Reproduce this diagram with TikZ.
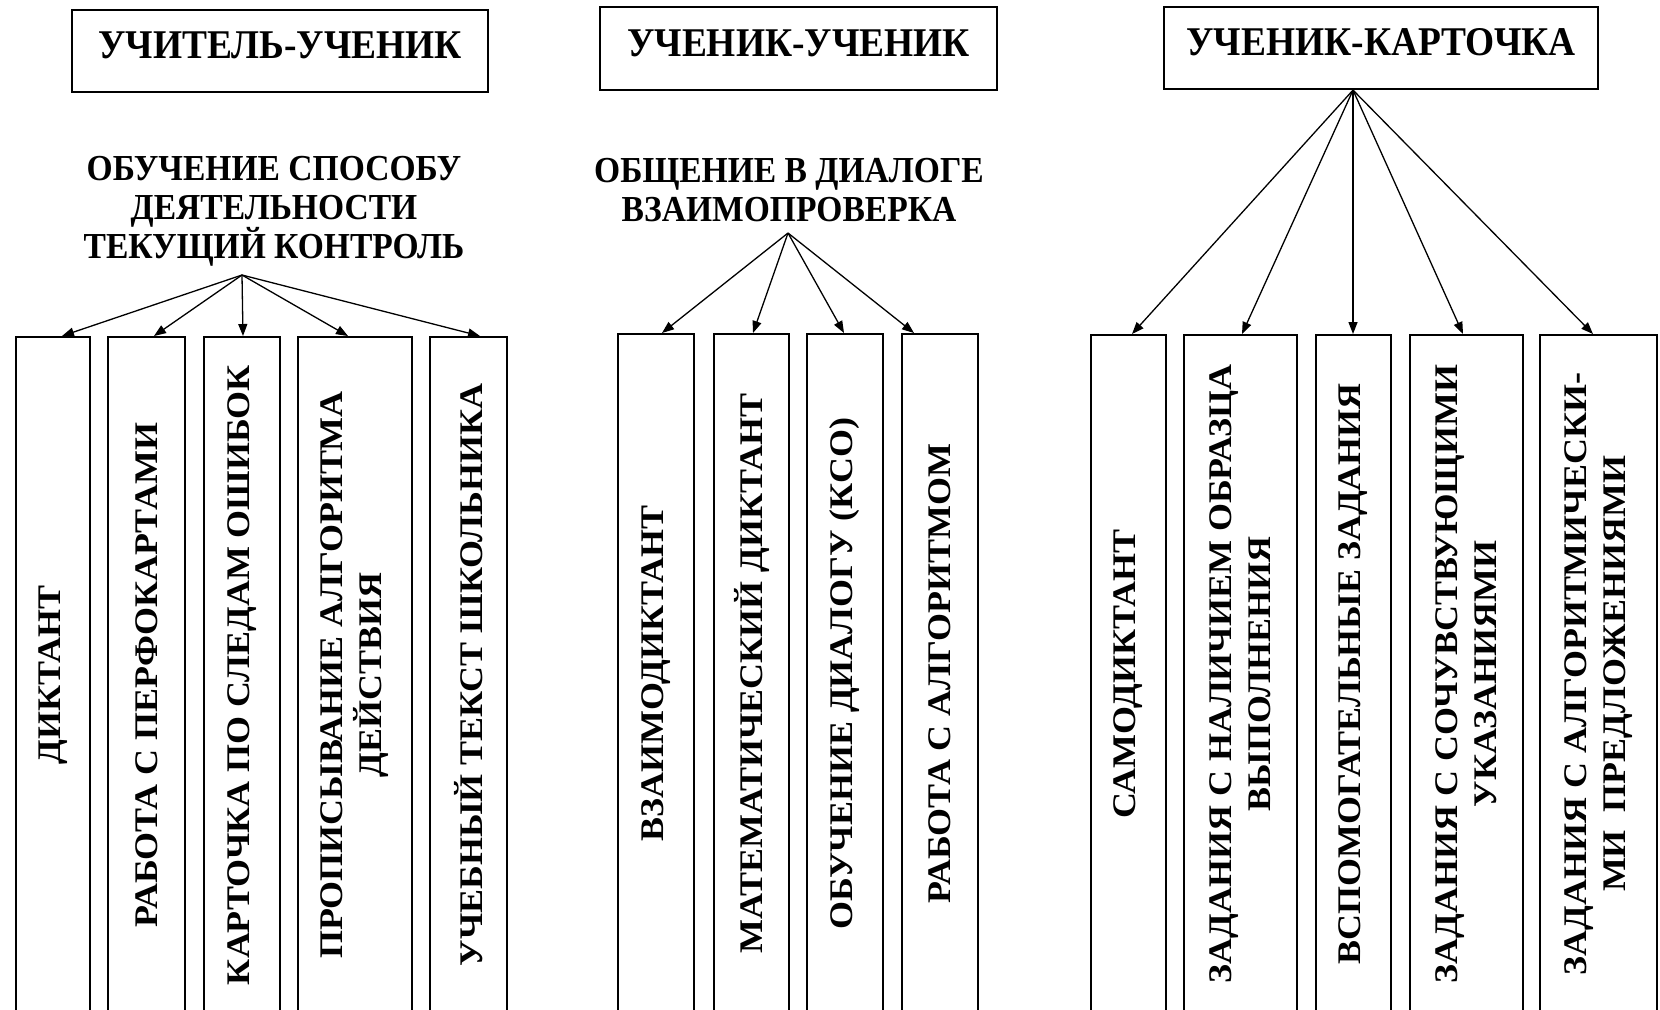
\documentclass[tikz,border=0pt]{standalone}
\usepackage{fontspec}
\setmainfont{Liberation Serif}
\newfontfamily\hfont{Liberation Serif}[FakeStretch=0.917]
\newfontfamily\vfont{Liberation Serif}[FakeStretch=1.09]
\usetikzlibrary{arrows.meta,calc}
\begin{document}
\begin{tikzpicture}[x=0.5pt,y=-0.5pt,
  titlebox/.style={draw, line width=1.1pt, inner sep=0pt, text height=12pt, text depth=4.5pt,
    font=\hfont\bfseries\fontsize{20.4}{22}\selectfont},
  lab/.style={align=center, inner sep=0pt, font=\hfont\bfseries\fontsize{18.3}{19.5}\selectfont},
  col/.style={draw, line width=1pt, rotate=90, inner sep=0pt, align=center,
    font=\vfont\bfseries\fontsize{16.5}{19.5}\selectfont},
  colL/.style={col, minimum width=338pt},
  colM/.style={col, minimum width=339.5pt},
  colR/.style={col, minimum width=339pt},
  arr/.style={line width=0.65pt, -{Triangle[length=6pt,width=4.5pt]}}]
\fill[white] (0,0) rectangle (1660,1009);
\clip (0,0) rectangle (1660,1009);

% titles
\node[titlebox, minimum width=208pt, minimum height=41pt] (t1) at (280,51) {УЧИТЕЛЬ-УЧЕНИК};
\node[titlebox, minimum width=198.5pt, minimum height=41.5pt] (t2) at (798.5,48.5) {УЧЕНИК-УЧЕНИК};
\node[titlebox, minimum width=217pt, minimum height=41pt] (t3) at (1381,48) {УЧЕНИК-КАРТОЧКА};

% labels
\node[lab, anchor=north] (l1) at (274,156) {ОБУЧЕНИЕ СПОСОБУ\\ДЕЯТЕЛЬНОСТИ\\ТЕКУЩИЙ КОНТРОЛЬ};
\node[lab, anchor=north] (l2) at (789,158) {ОБЩЕНИЕ В ДИАЛОГЕ\\ВЗАИМОПРОВЕРКА};

\coordinate (o1) at (242,275);
\coordinate (o2) at (788,233);
\coordinate (o3) at ([xshift=-14pt]t3.south);

% left columns
\node[colL, minimum height=37pt] (a1) at (53,675) {ДИКТАНТ};
\node[colL, minimum height=38.5pt] (a2) at (146.5,675) {РАБОТА С ПЕРФОКАРТАМИ};
\node[colL, minimum height=38pt] (a3) at (242,675) {КАРТОЧКА ПО СЛЕДАМ ОШИБОК};
\node[colL, minimum height=57pt] (a4) at (355,675) {ПРОПИСЫВАНИЕ АЛГОРИТМА\\ДЕЙСТВИЯ};
\node[colL, minimum height=38.5pt] (a5) at (468.5,675) {УЧЕБНЫЙ ТЕКСТ ШКОЛЬНИКА};

% middle columns
\node[colM, minimum height=38pt] (b1) at (656,673.5) {ВЗАИМОДИКТАНТ};
\node[colM, minimum height=37.5pt] (b2) at (751.5,673.5) {МАТЕМАТИЧЕСКИЙ ДИКТАНТ};
\node[colM, minimum height=38pt] (b3) at (845,673.5) {ОБУЧЕНИЕ ДИАЛОГУ (КСО)};
\node[colM, minimum height=38pt] (b4) at (940,673.5) {РАБОТА С АЛГОРИТМОМ};

% right columns
\node[colR, minimum height=37.5pt] (c1) at (1128.5,674) {САМОДИКТАНТ};
\node[colR, minimum height=56.5pt] (c2) at (1240.5,674) {ЗАДАНИЯ С НАЛИЧИЕМ ОБРАЗЦА\\ВЫПОЛНЕНИЯ};
\node[colR, minimum height=37.5pt] (c3) at (1353.5,674) {ВСПОМОГАТЕЛЬНЫЕ ЗАДАНИЯ};
\node[colR, minimum height=56.5pt] (c4) at (1466.5,674) {ЗАДАНИЯ С СОЧУВСТВУЮЩИМИ\\УКАЗАНИЯМИ};
\node[colR, minimum height=58.5pt] (c5) at (1598.5,674) {ЗАДАНИЯ С АЛГОРИТМИЧЕСКИ-\\МИ\ \ ПРЕДЛОЖЕНИЯМИ};

% arrows
\draw[arr] (o1) -- ([xshift=4.5pt]a1.east);
\draw[arr] (o1) -- ([xshift=3.75pt]a2.east);
\draw[arr] (o1) -- ([xshift=0.5pt]a3.east);
\draw[arr] (o1) -- ([xshift=-3.5pt]a4.east);
\draw[arr] (o1) -- ([xshift=5.75pt]a5.east);

\draw[arr] (o2) -- ([xshift=3pt]b1.east);
\draw[arr] (o2) -- ([xshift=0.75pt]b2.east);
\draw[arr] (o2) -- ([xshift=-0.5pt]b3.east);
\draw[arr] (o2) -- ([xshift=-13pt]b4.east);

\draw[arr] (o3) -- ([xshift=1.75pt]c1.east);
\draw[arr] (o3) -- ([xshift=0.75pt]c2.east);
\draw[arr] (o3) -- ([xshift=-0.25pt]c3.east);
\draw[arr] (o3) -- ([xshift=-1.75pt]c4.east);
\draw[arr] (o3) -- ([xshift=-2.75pt]c5.east);
\end{tikzpicture}
\end{document}
